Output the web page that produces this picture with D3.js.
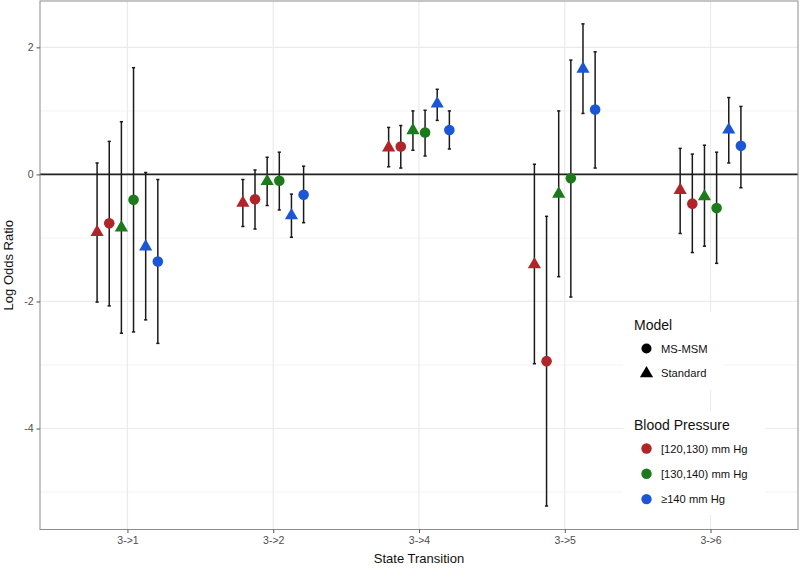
<!DOCTYPE html>
<html>
<head>
<meta charset="utf-8">
<script src="https://cdn.jsdelivr.net/npm/d3@7"></script>
<style>
html,body{margin:0;padding:0;background:#fff;}
svg{display:block;font-family:"Liberation Sans",Arial,sans-serif;}
</style>
</head>
<body>
<svg id="chart" width="800" height="568"></svg>
<script>
// ---- data ----
const transitions = ["3->1", "3->2", "3->4", "3->5", "3->6"];
const yTicks = [-4, -2, 0, 2];
const yTickLabels = ["-4", "-2", "0", "2"];
const yMinorTicks = [-5, -3, -1, 1];
const bpLevels = ["[120,130) mm Hg", "[130,140) mm Hg", "≥140 mm Hg"];
const bpColors = ["#b0252a", "#1c7a1c", "#1a56d6"];
const models = ["MS-MSM", "Standard"];

// Standard model, [120,130)
const std120Est = [-0.90, -0.44, 0.43, -1.41, -0.24];
const std120Lo  = [-2.01, -0.82, 0.12, -2.98, -0.93];
const std120Hi  = [0.18, -0.08, 0.74, 0.16, 0.41];
// MS-MSM, [120,130)
const ms120Est = [-0.77, -0.39, 0.44, -2.94, -0.46];
const ms120Lo  = [-2.07, -0.86, 0.10, -5.22, -1.23];
const ms120Hi  = [0.52, 0.07, 0.77, -0.66, 0.32];
// Standard, [130,140)
const std130Est = [-0.83, -0.10, 0.70, -0.30, -0.34];
const std130Lo  = [-2.50, -0.49, 0.38, -1.61, -1.13];
const std130Hi  = [0.83, 0.27, 1.00, 1.00, 0.46];
// MS-MSM, [130,140)
const ms130Est = [-0.40, -0.10, 0.66, -0.06, -0.53];
const ms130Lo  = [-2.48, -0.56, 0.29, -1.93, -1.40];
const ms130Hi  = [1.68, 0.35, 1.01, 1.80, 0.35];
// Standard, >=140
const std140Est = [-1.13, -0.64, 1.12, 1.67, 0.71];
const std140Lo  = [-2.29, -0.99, 0.85, 0.96, 0.18];
const std140Hi  = [0.03, -0.31, 1.34, 2.37, 1.21];
// MS-MSM, >=140
const ms140Est = [-1.37, -0.32, 0.70, 1.02, 0.45];
const ms140Lo  = [-2.66, -0.76, 0.40, 0.10, -0.21];
const ms140Hi  = [-0.08, 0.13, 1.00, 1.93, 1.07];

const series = [
  {id: "s120", bp: 0, model: "Standard", est: std120Est, lo: std120Lo, hi: std120Hi},
  {id: "m120", bp: 0, model: "MS-MSM",   est: ms120Est,  lo: ms120Lo,  hi: ms120Hi},
  {id: "s130", bp: 1, model: "Standard", est: std130Est, lo: std130Lo, hi: std130Hi},
  {id: "m130", bp: 1, model: "MS-MSM",   est: ms130Est,  lo: ms130Lo,  hi: ms130Hi},
  {id: "s140", bp: 2, model: "Standard", est: std140Est, lo: std140Lo, hi: std140Hi},
  {id: "m140", bp: 2, model: "MS-MSM",   est: ms140Est,  lo: ms140Lo,  hi: ms140Hi}
];

// ---- layout ----
const svg = d3.select("#chart");
const P = {left: 40, right: 798, top: 1, bottom: 529.5};

const x = d3.scalePoint().domain(transitions).range([P.left, P.right]).padding(0.6);
const dodge = d3.scaleBand().domain(series.map(s => s.id))
  .range([-x.step() * 0.25, x.step() * 0.25]);
const y = d3.scaleLinear().domain([-5.59, 2.73]).range([P.bottom, P.top]);

const grid = svg.append("g");
grid.selectAll("line.minor").data(yMinorTicks).join("line")
  .attr("x1", P.left).attr("x2", P.right)
  .attr("y1", d => y(d)).attr("y2", d => y(d))
  .attr("stroke", "#f3f3f3").attr("stroke-width", 1);
grid.selectAll("line.major").data(yTicks).join("line")
  .attr("x1", P.left).attr("x2", P.right)
  .attr("y1", d => y(d)).attr("y2", d => y(d))
  .attr("stroke", "#ebebeb").attr("stroke-width", 1.2);
grid.selectAll("line.vx").data(transitions).join("line")
  .attr("x1", d => x(d)).attr("x2", d => x(d))
  .attr("y1", P.top).attr("y2", P.bottom)
  .attr("stroke", "#ebebeb").attr("stroke-width", 1.2);

// zero line
svg.append("line")
  .attr("x1", P.left).attr("x2", P.right)
  .attr("y1", y(0)).attr("y2", y(0))
  .attr("stroke", "#222").attr("stroke-width", 1.6);

// legend backgrounds (drawn over grid, under marks)
const legendBg = svg.append("g");

// error bars and points
const marks = svg.append("g");
const tri = d3.symbol().type(d3.symbolTriangle).size(75);
series.forEach(s => {
  const g = marks.append("g");
  transitions.forEach((t, i) => {
    const cx = x(t) + dodge(s.id) + dodge.bandwidth() / 2;
    g.append("line").attr("x1", cx).attr("x2", cx)
      .attr("y1", y(s.lo[i])).attr("y2", y(s.hi[i]))
      .attr("stroke", "#1a1a1a").attr("stroke-width", 1.5);
    [s.lo[i], s.hi[i]].forEach(v => {
      g.append("line").attr("x1", cx - 1.6).attr("x2", cx + 1.6)
        .attr("y1", y(v)).attr("y2", y(v))
        .attr("stroke", "#1a1a1a").attr("stroke-width", 1.5);
    });
  });
});
series.forEach(s => {
  const g = marks.append("g");
  transitions.forEach((t, i) => {
    const cx = x(t) + dodge(s.id) + dodge.bandwidth() / 2;
    if (s.model === "MS-MSM") {
      g.append("circle").attr("cx", cx).attr("cy", y(s.est[i])).attr("r", 5.3)
        .attr("fill", bpColors[s.bp]);
    } else {
      g.append("path").attr("d", tri())
        .attr("transform", `translate(${cx},${y(s.est[i]) + 0.5})`)
        .attr("fill", bpColors[s.bp]);
    }
  });
});

// panel border
svg.append("rect").attr("x", P.left).attr("y", P.top)
  .attr("width", P.right - P.left).attr("height", P.bottom - P.top)
  .attr("fill", "none").attr("stroke", "#8c8c8c").attr("stroke-width", 1);

// axes
const yAxis = d3.axisLeft(y).tickValues(yTicks).tickSize(3.5).tickPadding(3)
  .tickFormat((d, i) => yTickLabels[i]);
const gy = svg.append("g").attr("transform", `translate(${P.left},0)`).call(yAxis);
gy.select(".domain").remove();
gy.selectAll(".tick line").attr("stroke", "#555");
gy.selectAll(".tick text").attr("fill", "#4d4d4d").attr("font-size", 10.5)
  .attr("font-family", "Liberation Sans, Arial, sans-serif");

const xAxis = d3.axisBottom(x).tickSize(3.5).tickPadding(4);
const gx = svg.append("g").attr("transform", `translate(0,${P.bottom})`).call(xAxis);
gx.select(".domain").remove();
gx.selectAll(".tick line").attr("stroke", "#555");
gx.selectAll(".tick text").attr("fill", "#4d4d4d").attr("font-size", 10.5)
  .attr("font-family", "Liberation Sans, Arial, sans-serif");

// axis titles
svg.append("text").attr("x", (P.left + P.right) / 2).attr("y", 563)
  .attr("text-anchor", "middle").attr("font-size", 13).attr("fill", "#111")
  .text("State Transition");
svg.append("text").attr("transform", `translate(13,${(P.top + P.bottom) / 2}) rotate(-90)`)
  .attr("text-anchor", "middle").attr("font-size", 13).attr("fill", "#111")
  .text("Log Odds Ratio");

// legends
legendBg.append("rect").attr("x", 623).attr("y", 312).attr("width", 100).attr("height", 78).attr("fill", "#fff");
legendBg.append("rect").attr("x", 623).attr("y", 411).attr("width", 142).attr("height", 104).attr("fill", "#fff");

const lg = svg.append("g");
lg.append("text").attr("x", 634).attr("y", 330).attr("font-size", 14).attr("fill", "#111").text("Model");
models.forEach((m, i) => {
  const yy = 348.5 + i * 24.5;
  if (m === "MS-MSM") {
    lg.append("circle").attr("cx", 646.5).attr("cy", yy).attr("r", 5).attr("fill", "#000");
  } else {
    lg.append("path").attr("d", tri()).attr("transform", `translate(646.5,${yy + 0.5})`).attr("fill", "#000");
  }
  lg.append("text").attr("x", 661).attr("y", yy + 4).attr("font-size", 11.2).attr("fill", "#111").text(m);
});
lg.append("text").attr("x", 634).attr("y", 430).attr("font-size", 14).attr("fill", "#111").text("Blood Pressure");
bpLevels.forEach((b, i) => {
  const yy = 448.5 + i * 25.3;
  lg.append("circle").attr("cx", 646.5).attr("cy", yy).attr("r", 5.2).attr("fill", bpColors[i]);
  lg.append("text").attr("x", 661).attr("y", yy + 4).attr("font-size", 11.2).attr("fill", "#111").text(b);
});
</script>
</body>
</html>
